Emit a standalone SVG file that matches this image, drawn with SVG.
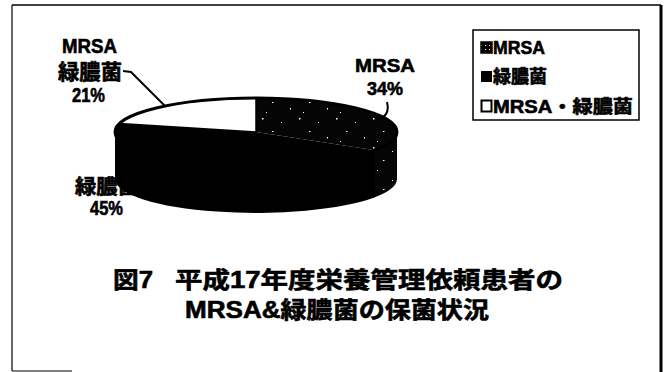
<svg xmlns="http://www.w3.org/2000/svg" width="671" height="372" viewBox="0 0 671 372">
<style>
.t{font-family:"Liberation Sans","Noto Sans CJK JP",sans-serif;font-weight:bold;fill:#000;stroke:#000;stroke-width:0.6}
.lead{fill:none;stroke:#000;stroke-width:2}
.dot{fill:#fff}
</style>
<defs>
<pattern id="stip" width="37" height="29" patternUnits="userSpaceOnUse">
<rect width="37" height="29" fill="#050505"/>
<rect class="dot" x="3" y="2" width="1.5" height="1.5"/>
<rect class="dot" x="22" y="6" width="1" height="1"/>
<rect class="dot" x="13" y="15" width="1.5" height="1"/>
<rect class="dot" x="31" y="21" width="1" height="1.5"/>
<rect class="dot" x="7" y="25" width="1" height="1"/>
</pattern>
<pattern id="stipL" width="4" height="4" patternUnits="userSpaceOnUse">
<rect width="4" height="4" fill="#000"/>
<rect x="1" y="1" width="1" height="1" fill="#fff"/>
</pattern>
</defs>
<rect x="0" y="0" width="671" height="372" fill="#fff"/>
<g id="frame">
<line x1="12" y1="5" x2="661" y2="5" stroke="#000" stroke-width="1.5"/>
<line x1="12" y1="5" x2="12" y2="371" stroke="#000" stroke-width="1.2"/>
<line x1="12" y1="371" x2="72" y2="371" stroke="#000" stroke-width="1.2"/>
<line x1="661" y1="5" x2="661" y2="372" stroke="#000" stroke-width="3"/>
</g>
<g id="labels-behind">
<text class="t" x="107" y="194" font-size="20" text-anchor="middle" textLength="64" lengthAdjust="spacingAndGlyphs">緑膿菌</text>
</g>
<g id="pie">
<path d="M115,132 L115,179 A141,34 0 0 0 375,197.2 L375,150.2 A141,34 0 0 1 115,132 Z" fill="#000"/>
<path d="M375,150.2 L375,197.2 A141,34 0 0 0 397,179 L397,132 A141,34 0 0 1 375,150.2 Z" fill="url(#stip)"/>
<path id="slice-mrsa" d="M256,132 L256,98 A141,34 0 0 1 375,150.2 Z" fill="url(#stip)"/>
<path id="slice-ryokunou" d="M256,132 L375,150.2 A141,34 0 0 1 119.4,123.5 Z" fill="#000"/>
<path id="slice-both" d="M256,132 L119.4,123.5 A141,34 0 0 1 256,98 Z" fill="#fff" stroke="#000" stroke-width="1.5"/>
<ellipse cx="256" cy="132" rx="141" ry="34" fill="none" stroke="#000" stroke-width="3"/>
</g>
<g id="connectors">
<polyline class="lead" points="123,71 131,72 165,106"/>
<path class="lead" d="M387,102 Q390,113 382,118"/>
</g>
<g id="label-both">
<text class="t" x="89.5" y="53" font-size="20" text-anchor="middle" textLength="55" lengthAdjust="spacingAndGlyphs">MRSA</text>
<text class="t" x="90" y="79" font-size="21" text-anchor="middle" textLength="64" lengthAdjust="spacingAndGlyphs">緑膿菌</text>
<text class="t" x="88.5" y="102" font-size="20" text-anchor="middle" textLength="33" lengthAdjust="spacingAndGlyphs">21%</text>
</g>
<g id="label-mrsa">
<text class="t" x="385" y="72" font-size="19" text-anchor="middle" textLength="60" lengthAdjust="spacingAndGlyphs">MRSA</text>
<text class="t" x="385" y="95" font-size="19" text-anchor="middle" textLength="36" lengthAdjust="spacingAndGlyphs">34%</text>
</g>
<g id="label-ryokunou">
<text class="t" x="106.5" y="215" font-size="20" text-anchor="middle" textLength="33" lengthAdjust="spacingAndGlyphs">45%</text>
</g>
<g id="legend">
<rect x="473" y="30" width="166" height="90" fill="#fff" stroke="#000" stroke-width="1.5"/>
<rect x="481" y="42" width="11" height="11" fill="url(#stipL)" stroke="#000" stroke-width="1.5"/>
<text class="t" x="493" y="54" font-size="18" textLength="52" lengthAdjust="spacingAndGlyphs">MRSA</text>
<rect x="481" y="71" width="11" height="11" fill="#000"/>
<text class="t" x="493" y="83" font-size="18" textLength="54" lengthAdjust="spacingAndGlyphs">緑膿菌</text>
<rect x="481.5" y="100.5" width="10" height="11" fill="#fff" stroke="#000" stroke-width="2"/>
<text class="t" x="493" y="113" font-size="18" textLength="140" lengthAdjust="spacingAndGlyphs">MRSA・緑膿菌</text>
</g>
<g id="title">
<text class="t" font-size="23"><tspan x="113" y="288" textLength="40" lengthAdjust="spacingAndGlyphs">図7</tspan><tspan x="175" y="288" textLength="388" lengthAdjust="spacingAndGlyphs">平成17年度栄養管理依頼患者の</tspan></text>
<text class="t" x="185" y="318" font-size="23" textLength="304" lengthAdjust="spacingAndGlyphs">MRSA&amp;緑膿菌の保菌状況</text>
</g>
</svg>
